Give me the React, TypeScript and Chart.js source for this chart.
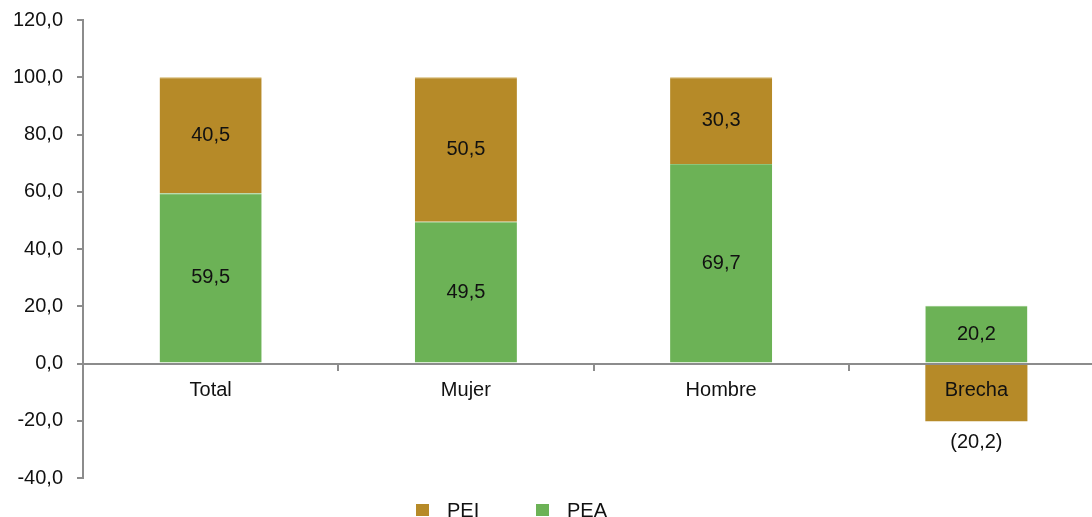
import React, { useEffect, useRef } from "react";
import { Chart, registerables } from "chart.js";

Chart.register(...registerables);

const categories = ["Total", "Mujer", "Hombre", "Brecha"];
const peaValues = [59.5, 49.5, 69.7, 20.2];
const peiValues = [40.5, 50.5, 30.3, -20.2];
const yMin = -40;
const yMax = 120;
const yStep = 20;
const legendOrder = ["PEI", "PEA"];

const GREEN = "#6CB256";
const GOLD = "#B68A28";
const AXIS = "#8C8C8C";
const FONT = '"Liberation Sans", Arial, sans-serif';
const FS = 20;

const fmt = (v: number) => v.toFixed(1).replace(".", ",");

const labelPlugin = {
  id: "barLabels",
  afterDatasetsDraw(chart: any) {
    const ctx = chart.ctx;
    ctx.save();
    ctx.font = `${FS}px ${FONT}`;
    ctx.fillStyle = "#111";
    ctx.textAlign = "center";
    ctx.textBaseline = "middle";
    chart.data.datasets.forEach((ds: any, di: number) => {
      const meta = chart.getDatasetMeta(di);
      meta.data.forEach((bar: any, i: number) => {
        const v = ds.data[i] as number;
        const { x, y, base } = bar.getProps(["x", "y", "base"], true);
        if (v < 0) {
          ctx.fillText(`(${fmt(-v)})`, x, Math.max(y, base) + 21);
        } else {
          ctx.fillText(fmt(v), x, (y + base) / 2);
        }
      });
    });
    ctx.restore();
  },
  afterDraw(chart: any) {
    const ctx = chart.ctx;
    ctx.save();
    ctx.font = `${FS}px ${FONT}`;
    ctx.textBaseline = "middle";
    ctx.textAlign = "left";
    const cy = 510;
    legendOrder.forEach((name, idx) => {
      const bx = idx === 0 ? 416 : 536;
      ctx.fillStyle = name === "PEA" ? GREEN : GOLD;
      ctx.fillRect(bx, cy - 6, 13, 12);
      ctx.fillStyle = "#111";
      ctx.fillText(name, bx + 31, cy + 1);
    });
    ctx.restore();
  },
};

export default function App() {
  const ref = useRef<HTMLCanvasElement | null>(null);

  useEffect(() => {
    if (!ref.current) return;
    const chart = new Chart(ref.current, {
      type: "bar",
      data: {
        labels: categories,
        datasets: [
          {
            label: "PEA",
            data: peaValues,
            backgroundColor: GREEN,
            borderColor: "#8CC47A",
            borderWidth: { top: 1, left: 0, right: 0, bottom: 0 },
            categoryPercentage: 1,
            barPercentage: 0.4,
          },
          {
            label: "PEI",
            data: peiValues,
            backgroundColor: GOLD,
            borderColor: "#D2B160",
            borderWidth: { top: 1, left: 0, right: 0, bottom: 0 },
            categoryPercentage: 1,
            barPercentage: 0.4,
          },
        ],
      },
      options: {
        animation: false,
        responsive: false,
        maintainAspectRatio: false,
        layout: { padding: { top: 20, bottom: 39, left: 0, right: 6 } },
        plugins: {
          legend: { display: false },
          tooltip: { enabled: false },
        },
        scales: {
          x: {
            stacked: true,
            position: { y: 0 } as any,
            grid: {
              offset: true,
              drawOnChartArea: false,
              drawTicks: true,
              tickLength: 6,
              color: AXIS,
              lineWidth: 2,
            },
            border: { display: true, color: AXIS, width: 2, z: 1 },
            ticks: {
              z: 1,
              padding: 9,
              color: "#111",
              font: { family: FONT, size: FS },
              maxRotation: 0,
            },
          },
          y: {
            stacked: true,
            min: yMin,
            max: yMax,
            afterFit: (s: any) => {
              s.width = 83;
            },
            grid: {
              drawOnChartArea: false,
              drawTicks: true,
              tickLength: 6,
              color: AXIS,
              lineWidth: 2,
            },
            border: { display: true, color: AXIS, width: 2 },
            ticks: {
              stepSize: yStep,
              padding: 14,
              color: "#111",
              font: { family: FONT, size: FS, lineHeight: 0.5 },
              callback: (v: any) => fmt(Number(v)),
            },
          },
        },
      },
      plugins: [labelPlugin],
    });
    return () => chart.destroy();
  }, []);

  return (
    <div
      style={{
        position: "fixed",
        left: 0,
        top: 0,
        width: 1092,
        height: 517,
        overflow: "hidden",
        background: "#fff",
      }}
    >
      <canvas ref={ref} width={1110} height={517} style={{ display: "block" }} />
    </div>
  );
}
